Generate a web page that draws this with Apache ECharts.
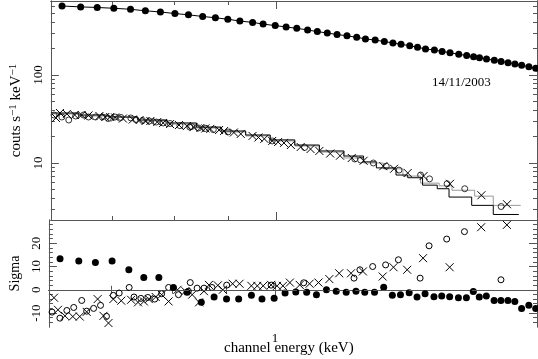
<!DOCTYPE html>
<html>
<head>
<meta charset="utf-8">
<script src="https://cdn.jsdelivr.net/npm/echarts@6/dist/echarts.min.js"></script>
<style>
  html, body { margin: 0; padding: 0; background: #fff; }
  #chart { width: 538px; height: 359px; }
</style>
</head>
<body>
<div id="chart"></div>
<script>
/****** DATA ******/
// filled circles (upper spectrum), keV / counts s-1 keV-1 / sigma
var fillX = [0.627,0.653,0.677,0.702,0.728,0.752,0.777,0.802,0.826,0.852,0.876,0.900,0.924,0.950,0.972,0.998,
    1.022,1.046,1.071,1.094,1.118,1.142,1.167,1.192,1.215,1.241,1.266,1.290,1.313,1.338,1.361,1.385,1.412,1.436,
    1.461,1.489,1.515,1.538,1.558,1.582,1.609,1.633,1.658,1.683,1.708,1.735,1.761];
var fillY = [608,594,585,573,558,536,520,499,483,462,447,430,410,396,379,364,351,339,325,311,300,288,279,268,
    257,249,240,231,223,215,206,198,192,185,179,172,166,161,157,152,147,142,138,133,129,124,119];
var fillSig = [13.3,12.4,11.7,12.4,8.6,5.3,5.3,1.0,-1.1,-5.4,-3.1,-4.0,-4.0,-2.3,-4.0,-3.6,-1.4,-0.9,-1.1,-2.1,
    0,-0.6,-1.1,-0.6,-1.1,-1.1,1.1,-2.4,-2.1,-1.3,-3.1,-1.7,-3.0,-2.7,-3.0,-3.4,-3.4,-0.7,-3.1,-2.7,-4.6,-4.6,
    -4.6,-5.0,-8.0,-6.7,-8.0];

// open circles
var openX = [0.6162,0.6268,0.6363,0.6459,0.6572,0.6643,0.6744,0.6846,0.6935,0.7039,0.7129,0.7285,0.7362,0.7473,
    0.7586,0.7701,0.7817,0.7936,0.8108,0.8284,0.8318,0.8443,0.8570,0.8720,0.9003,0.9915,1.0641,1.1870,1.2023,
    1.2361,1.2713,1.3071,1.3702,1.3971,1.4516,1.5086,1.6331];
var openY = [35.1,33.3,30.8,34.2,35.1,33.3,33.3,33.3,32.0,33.3,32.9,32.5,31.2,30.4,30.0,29.2,28.5,28.1,26.6,25.6,
    26.0,25.0,24.7,24.0,22.5,17.8,15.0,11.1,10.8,10.0,9.2,8.3,7.3,6.6,5.8,5.1,3.2];
var openSig = [-9.6,-12.2,-8.9,-7.6,-4.6,-9.2,-8.0,-6.7,-11.4,-2.4,-1.4,1.0,-3.1,-3.7,-3.3,-4.0,-1.7,1.0,-2.1,
    -0.6,3.1,0.7,0.7,1.0,2.0,2.0,3.0,5.0,8.6,10.0,10.7,12.9,5.0,18.9,21.8,25.0,4.3];

// crosses
var crossX = [0.6188,0.6242,0.6337,0.6446,0.6544,0.6643,0.6803,0.6890,0.6965,0.7039,0.7161,0.7316,0.7426,0.7522,
    0.7602,0.7717,0.7817,0.7936,0.8091,0.8231,0.8353,0.8479,0.8570,0.8663,0.8831,0.8928,0.9120,0.9258,0.9499,
    0.9622,0.9746,0.9915,1.0043,1.0172,1.0327,1.0550,1.0779,1.0988,1.1251,1.1494,1.1793,1.2101,1.2632,1.2932,
    1.3323,1.3790,1.4609,1.5645,1.6543];
var crossY = [32.5,37.0,36.1,35.1,35.1,34.7,34.2,33.3,33.3,32.9,32.0,31.2,30.8,30.0,30.0,29.2,28.5,27.7,27.0,26.3,
    25.6,25.0,24.7,24.4,23.7,23.1,22.2,21.4,20.3,19.5,18.8,17.8,17.3,16.9,16.0,15.2,14.4,13.7,12.8,12.1,11.4,10.6,
    9.2,8.6,7.7,7.1,5.8,4.3,3.4];
var crossSig = [-3.4,-8.6,-11.2,-11.5,-11.5,-9.5,-4.0,-11.2,-14.3,-4.0,-4.7,-4.3,-5.4,-5.0,-4.0,-3.1,-2.1,-5.0,0,
    -0.6,-2.1,-5.4,-0.6,2.1,1.9,0,2.6,2.6,1.7,1.7,1.7,2.1,1.7,1.7,3.1,2.1,2.6,3.1,4.6,7.1,7.1,7.9,5.7,9.7,8.6,
    13.6,9.7,26.9,27.9];

// folded model steps (bin left edges)
var modBlackX = [0.612,0.6502,0.6935,0.7396,0.7885,0.8407,0.8870,0.9358,0.9872,1.0415,1.0988,1.1592,1.2101,
    1.2443,1.2987,1.3323,1.3761,1.4208,1.4578,1.5316,1.6054,1.6974];
var modBlackY = [37.0,35.1,33.3,30.8,28.5,25.6,23.1,20.8,18.3,16.0,13.7,12.0,10.3,8.8,7.3,6.8,5.6,5.1,4.1,3.3,2.6,2.6];
var modGreyX = [0.612,0.6502,0.6935,0.7396,0.7885,0.8407,0.8870,0.9358,0.9872,1.0415,1.0988,1.1592,1.2101,
    1.2632,1.3183,1.3702,1.4268,1.4672,1.5416,1.6054,1.7046];
var modGreyY = [36.1,34.2,32.5,30.0,27.7,25.0,22.5,20.3,17.8,15.6,13.3,11.4,10.0,8.6,7.1,5.9,5.5,4.9,4.2,3.3,3.3];

// axes
var xTicks = [0.7, 0.8, 0.9];
var xMajor = [1];
var yTicksTop = [3,4,5,6,7,8,9,20,30,40,50,60,70,80,90,200,300,400,500,600];
var yMajorTop = [10, 100];
var yTicksSig = [-14,-12,-8,-6,-4,-2,2,4,6,8,12,14,16,18,22,24,26,28];
var yMajorSig = [-10, 0, 10, 20];
var dateText = '14/11/2003';

/****** HELPERS ******/
var FONT = 'Liberation Serif';
var FRAME = '#555';
var CROSS = 'path://M0,0L10,10M10,0L0,10';

function zip(xs, ys) {
    var out = [];
    for (var i = 0; i < xs.length; i++) {
        out.push([xs[i], ys[i]]);
    }
    return out;
}

// one axis per side and tick size; "major" ones carry the labels
function xAxisFor(grid, pos, major, labels) {
    return {
        type: 'log', gridIndex: grid, position: pos,
        min: 0.612, max: 1.766,
        axisLine: { show: true, lineStyle: { color: FRAME, width: 1 } },
        axisTick: { show: true, inside: true, length: major ? 8 : 4, customValues: major ? xMajor : xTicks,
                    lineStyle: { color: FRAME } },
        axisLabel: labels ? { show: true, customValues: xMajor, color: '#000', fontFamily: FONT, fontSize: 13, margin: 5 }
                          : { show: false },
        splitLine: { show: false }
    };
}

function yAxisFor(grid, pos, isLog, major, name) {
    var ax = {
        type: isLog ? 'log' : 'value', gridIndex: grid, position: pos,
        min: isLog ? 2.25 : -16, max: isLog ? 693 : 30,
        axisLine: { show: true, lineStyle: { color: FRAME, width: 1 } },
        axisTick: { show: true, inside: true, length: major ? 8 : 4,
                    customValues: isLog ? (major ? yMajorTop : yTicksTop) : (major ? yMajorSig : yTicksSig),
                    lineStyle: { color: FRAME } },
        axisLabel: { show: false },
        splitLine: { show: false }
    };
    if (name) {
        ax.axisLabel = { show: true, rotate: 90, customValues: isLog ? yMajorTop : yMajorSig,
                         color: '#000', fontFamily: FONT, fontSize: 13, margin: 6 };
        ax.name = name;
        ax.nameLocation = 'middle';
        ax.nameRotate = 90;
        ax.nameGap = 23;
        ax.nameTextStyle = {
            color: '#000', fontFamily: FONT, fontSize: isLog ? 15 : 14,
            rich: {
                a: { fontFamily: FONT, fontSize: 15, color: '#000' },
                s: { fontFamily: FONT, fontSize: 11, color: '#000', verticalAlign: 'top', padding: [0, 0, 6, 0] }
            }
        };
    }
    return ax;
}

/****** OPTION ******/
var option = {
    animation: false,
    backgroundColor: '#fff',
    grid: [
        { left: 42, top: 1, width: 495, height: 219 },
        { left: 42, top: 220, width: 495, height: 107 }
    ],
    xAxis: [
        xAxisFor(0, 'bottom', true, false),
        xAxisFor(0, 'bottom', false, false),
        xAxisFor(0, 'top', true, false),
        xAxisFor(0, 'top', false, false),
        xAxisFor(1, 'bottom', true, true),
        xAxisFor(1, 'bottom', false, false),
        xAxisFor(1, 'top', true, false),
        xAxisFor(1, 'top', false, false)
    ],
    yAxis: [
        yAxisFor(0, 'left', true, true, '{a|couts s}{s|−1}{a| keV}{s|−1}'),
        yAxisFor(0, 'left', true, false),
        yAxisFor(0, 'right', true, true),
        yAxisFor(0, 'right', true, false),
        yAxisFor(1, 'left', false, true, 'Sigma'),
        yAxisFor(1, 'left', false, false),
        yAxisFor(1, 'right', false, true),
        yAxisFor(1, 'right', false, false)
    ],
    graphic: [
        { type: 'text', left: 432, top: 76,
          style: { text: dateText, font: '13px ' + FONT, fill: '#000' } },
        { type: 'text', left: 224, top: 341,
          style: { text: 'channel energy (keV)', font: '15px ' + FONT, fill: '#000' } }
    ],
    series: [
        {
            name: 'model grey', type: 'line', xAxisIndex: 0, yAxisIndex: 0, step: 'end',
            showSymbol: false, data: zip(modGreyX, modGreyY),
            lineStyle: { color: '#999', width: 1 }, z: 2
        },
        {
            name: 'model black', type: 'line', xAxisIndex: 0, yAxisIndex: 0, step: 'end',
            showSymbol: false, data: zip(modBlackX, modBlackY),
            lineStyle: { color: '#000', width: 1 }, z: 2
        },
        {
            name: 'filled', type: 'line', xAxisIndex: 0, yAxisIndex: 0,
            symbol: 'circle', symbolSize: 7, data: zip(fillX, fillY),
            itemStyle: { color: '#000', opacity: 1 }, lineStyle: { color: '#000', width: 1 }, z: 3
        },
        {
            name: 'open', type: 'scatter', xAxisIndex: 0, yAxisIndex: 0,
            symbol: 'circle', symbolSize: 6, data: zip(openX, openY),
            itemStyle: { color: 'transparent', borderColor: '#333', borderWidth: 1, opacity: 1 }, z: 3
        },
        {
            name: 'cross', type: 'scatter', xAxisIndex: 0, yAxisIndex: 0,
            symbol: CROSS, symbolSize: 8, data: zip(crossX, crossY),
            itemStyle: { color: 'transparent', borderColor: '#000', borderWidth: 1, opacity: 1 }, z: 3
        },
        {
            name: 'filled res', type: 'scatter', xAxisIndex: 4, yAxisIndex: 4,
            symbol: 'circle', symbolSize: 7, data: zip(fillX, fillSig),
            itemStyle: { color: '#000', opacity: 1 }, z: 3,
            markLine: {
                silent: true, symbol: 'none', label: { show: false },
                lineStyle: { color: '#555', type: [5, 4], width: 1 },
                data: [{ yAxis: 0 }]
            }
        },
        {
            name: 'open res', type: 'scatter', xAxisIndex: 4, yAxisIndex: 4,
            symbol: 'circle', symbolSize: 6, data: zip(openX, openSig),
            itemStyle: { color: 'transparent', borderColor: '#000', borderWidth: 1, opacity: 1 }, z: 3
        },
        {
            name: 'cross res', type: 'scatter', xAxisIndex: 4, yAxisIndex: 4,
            symbol: CROSS, symbolSize: 8, data: zip(crossX, crossSig),
            itemStyle: { color: 'transparent', borderColor: '#000', borderWidth: 1, opacity: 1 }, z: 3
        }
    ]
};

var myChart = echarts.init(document.getElementById('chart'));
myChart.setOption(option);
</script>
</body>
</html>
